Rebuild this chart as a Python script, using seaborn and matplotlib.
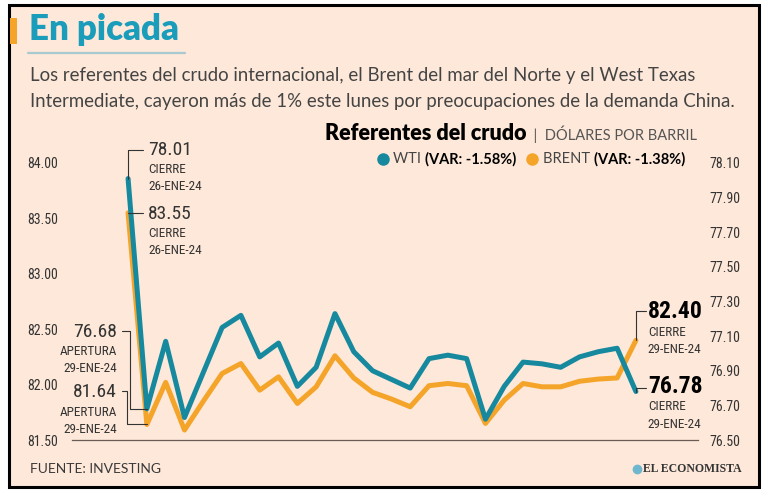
import numpy as np
import pandas as pd
import matplotlib
matplotlib.use('Agg')
import matplotlib.pyplot as plt
import seaborn as sns
from matplotlib.patches import Rectangle
from matplotlib.lines import Line2D

# valores intradía 26-ene-24 (cierre) -> 29-ene-24 (cierre)
wti = [78.01, 76.68, 77.07, 76.63, 76.89, 77.15, 77.22, 76.98, 77.06, 76.81,
       76.92, 77.23, 77.01, 76.90, 76.85, 76.80, 76.97, 76.99, 76.97, 76.62,
       76.81, 76.95, 76.94, 76.92, 76.98, 77.01, 77.03, 76.78]
brent = [83.55, 81.64, 82.02, 81.59, 81.85, 82.10, 82.19, 81.95, 82.07, 81.83,
         81.98, 82.26, 82.06, 81.93, 81.87, 81.80, 81.99, 82.01, 81.99, 81.65,
         81.86, 82.01, 81.98, 81.98, 82.03, 82.05, 82.06, 82.40]
left_ticks = [81.5, 82.0, 82.5, 83.0, 83.5, 84.0]
right_ticks = [76.5, 76.7, 76.9, 77.1, 77.3, 77.5, 77.7, 77.9, 78.1]

df = pd.DataFrame({'punto': range(len(wti)), 'WTI': wti, 'BRENT': brent})

BG = '#FDE8D9'
TEAL = '#16899F'
ORANGE = '#F5A42A'
DARK = '#333333'
W, H = 768, 493

sns.set_theme(style='white')
NARROW = ['Roboto Condensed', 'DejaVu Sans']
plt.rcParams['font.family'] = NARROW
plt.rcParams['font.stretch'] = 'condensed'
SANS = ['Lato', 'DejaVu Sans']

def fx(px):
    return px / W

def fy(py):
    return 1 - py / H

fig = plt.figure(figsize=(7.68, 4.93), dpi=100)
fig.patch.set_facecolor('white')
fig.patches.append(Rectangle((fx(9), fy(487)), 750 / W, 482 / H, transform=fig.transFigure,
                             facecolor=BG, edgecolor='black', lw=2.2, zorder=-5))

ax = fig.add_axes([fx(72), fy(440), fx(698) - fx(72), fy(163) - fy(440)])
ax.set_facecolor('none')
sns.lineplot(data=df, x='punto', y='BRENT', ax=ax, color=ORANGE, lw=3.6)
ax2 = ax.twinx()
sns.lineplot(data=df, x='punto', y='WTI', ax=ax2, color=TEAL, lw=3.6)
ax.set_xlim(-2.98, 30.3)
ax.set_ylim(81.5, 84.0)
ax2.set_ylim(76.5, 78.1)

ax.set_yticks(left_ticks)
ax.set_yticklabels([f'{v:.2f}' for v in left_ticks])
ax2.set_yticks(right_ticks)
ax2.set_yticklabels([f'{v:.2f}' for v in right_ticks])
ax.set_xticks([])
for a in (ax, ax2):
    a.set_xlabel('')
    a.set_ylabel('')
    a.tick_params(axis='y', length=0, labelsize=10, labelcolor=DARK)
    for s in a.spines.values():
        s.set_visible(False)
ax.tick_params(axis='y', pad=10)
ax2.tick_params(axis='y', pad=8)
ax.spines['bottom'].set_visible(True)
ax.spines['bottom'].set_color('#6b5d55')
ax.spines['bottom'].set_linewidth(0.9)


def to_px(axis, x, y):
    X, Y = axis.transData.transform((x, y))
    return X, H - Y


def leader(pts):
    fig.add_artist(Line2D([fx(p[0]) for p in pts], [fy(p[1]) for p in pts],
                          transform=fig.transFigure, color=DARK, lw=0.8))


def ftext(px, py, s, **kw):
    kw.setdefault('va', 'center')
    kw.setdefault('color', DARK)
    return fig.text(fx(px), fy(py), s, **kw)


def block(px, py, big, lines, ha='left', size=14, weight='normal', gaps=(20, 37)):
    ftext(px, py, big, ha=ha, fontsize=size, weight=weight,
          color='black' if weight == 'bold' else DARK)
    for g, s in zip(gaps, lines):
        ftext(px, py + g, s, ha=ha, fontsize=9.5)

# cierre 26-ene
x, y = to_px(ax2, 0, wti[0])
leader([(x, y), (x, y - 29), (x + 15, y - 29)])
block(x + 20, y - 29, f'{wti[0]:.2f}', ['CIERRE', '26-ENE-24'])
x, y = to_px(ax, 0, brent[0])
leader([(x, y), (x + 15, y)])
block(x + 20, y + 1, f'{brent[0]:.2f}', ['CIERRE', '26-ENE-24'])

# apertura 29-ene
x, y = to_px(ax2, 1, wti[1])
leader([(x, y), (x - 17, y), (x - 17, y - 78), (x - 25, y - 78)])
block(x - 30, y - 77, f'{wti[1]:.2f}', ['APERTURA', '29-ENE-24'], ha='right')
x, y = to_px(ax, 1, brent[1])
leader([(x, y), (x - 20, y), (x - 20, y - 33), (x - 25, y - 33)])
block(x - 30, y - 32, f'{brent[1]:.2f}', ['APERTURA', '29-ENE-24'], ha='right')

# cierre 29-ene
n = len(wti) - 1
x, y = to_px(ax, n, brent[n])
leader([(x, y), (x, y - 29), (x + 10, y - 29)])
block(x + 12, y - 29, f'{brent[n]:.2f}', ['CIERRE', '29-ENE-24'], size=17, weight='bold',
      gaps=(21, 38))
x, y = to_px(ax2, n, wti[n])
leader([(x, y), (x, y - 4), (x + 10, y - 4)])
block(x + 12, y - 5, f'{wti[n]:.2f}', ['CIERRE', '29-ENE-24'], size=17, weight='bold',
      gaps=(20, 38))

# encabezado
fig.patches.append(Rectangle((fx(10), fy(44)), 7 / W, 26 / H, transform=fig.transFigure,
                             facecolor=ORANGE, edgecolor='none'))
ftext(29, 30, 'En picada', fontsize=25, weight='heavy', color='#1A9CBB', family=SANS,
      fontstretch='normal')
fig.add_artist(Line2D([fx(28), fx(185)], [fy(53), fy(53)], transform=fig.transFigure,
                      color='#A9C9D0', lw=1.6))
sub = ['Los referentes del crudo internacional, el Brent del mar del Norte y el West Texas',
       'Intermediate, cayeron más de 1% este lunes por preocupaciones de la demanda China.']
ftext(30, 76, sub[0], fontsize=13.4, color='#444444', family=SANS, fontstretch='normal')
ftext(30, 101, sub[1], fontsize=13.4, color='#444444', family=SANS, fontstretch='normal')

renderer = fig.canvas.get_renderer()


def chain(px, py, pieces):
    for s, kw in pieces:
        t = ftext(px, py, s, family=SANS, fontstretch='normal', **kw)
        px = W * fx(t.get_window_extent(renderer).x1)
    return px

chain(325, 134, [('Referentes del crudo', dict(fontsize=15.5, weight='heavy', color='black')),
                 ('  |  DÓLARES POR BARRIL', dict(fontsize=10.5, color='#555555'))])
for cx, col in ((383, TEAL), (532, ORANGE)):
    fig.add_artist(Line2D([fx(cx)], [fy(159)], transform=fig.transFigure, marker='o',
                          markersize=8, color=col, lw=0))
chain(393, 159, [('WTI ', dict(fontsize=10.5, color='#444444')),
                 ('(VAR: -1.58%)', dict(fontsize=10.5, weight='bold', color='black'))])
chain(543, 159, [('BRENT ', dict(fontsize=10.5, color='#444444')),
                 ('(VAR: -1.38%)', dict(fontsize=10.5, weight='bold', color='black'))])

# pie
ftext(30, 469, 'FUENTE: INVESTING', fontsize=10, color='#3a3a3a', family=SANS,
      fontstretch='normal')
ftext(742, 469, 'EL ECONOMISTA', ha='right', fontsize=8.5, weight='bold', color='#333333',
      family=['Liberation Serif', 'DejaVu Serif'], fontstretch='normal')
fig.add_artist(Line2D([fx(637)], [fy(469)], transform=fig.transFigure, marker='o',
                      markersize=6, color='#6FB7CF', lw=0))

fig.savefig('out.png', dpi=100, facecolor=fig.get_facecolor())
